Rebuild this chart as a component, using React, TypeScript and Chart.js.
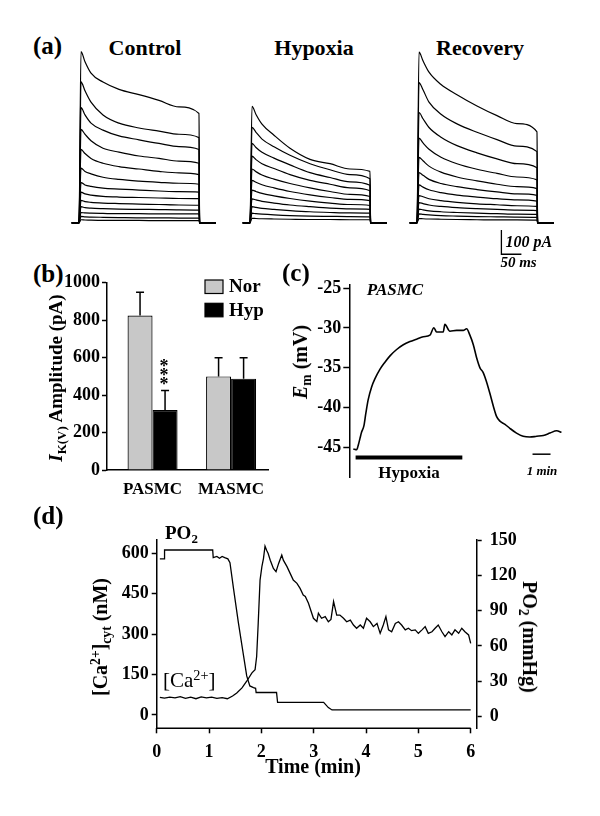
import React, { useEffect, useRef } from "react";
import { Chart, registerables } from "chart.js";

Chart.register(...registerables);

const SERIF = "'Liberation Serif', 'Times New Roman', Times, serif";
Chart.defaults.font.family = SERIF;
Chart.defaults.font.weight = "bold";
Chart.defaults.font.size = 16;
Chart.defaults.color = "#000";

// ---------------- (a) whole-cell K+ current traces (pA) ----------------
const stepTimesMs = [5, 15, 30, 60, 100, 150, 200, 250, 300];
const controlTraces = [
  [709, 667, 620, 583, 553, 531, 507, 480, 453],
  [584, 547, 500, 447, 413, 393, 380, 367, 353],
  [477, 447, 413, 384, 360, 344, 329, 316, 304],
  [387, 367, 340, 309, 293, 277, 267, 256, 247],
  [304, 287, 267, 247, 233, 223, 213, 207, 200],
  [227, 213, 203, 189, 180, 173, 168, 164, 160],
  [167, 157, 151, 144, 140, 136, 132, 129, 127],
  [127, 120, 115, 110, 107, 105, 103, 101, 100],
  [93, 88, 85, 82, 80, 78, 76, 74, 73],
  [67, 63, 61, 59, 57, 56, 55, 54, 53],
  [43, 41, 40, 39, 38, 38, 37, 37, 37],
  [27, 25, 24, 23, 22, 21, 21, 20, 20],
  [13, 12, 11, 10, 10, 10, 9, 9, 9],
];
const hypoxiaTraces = [
  [483, 449, 409, 363, 309, 263, 245, 223, 213],
  [396, 375, 347, 315, 280, 245, 220, 200, 183],
  [329, 312, 292, 268, 240, 208, 188, 170, 156],
  [276, 262, 245, 225, 200, 176, 160, 145, 133],
  [223, 212, 198, 181, 163, 145, 130, 118, 109],
  [176, 168, 158, 145, 130, 116, 105, 97, 92],
  [136, 130, 122, 112, 101, 90, 82, 76, 72],
  [99, 95, 89, 82, 74, 67, 61, 58, 56],
  [67, 64, 60, 56, 51, 46, 43, 41, 40],
  [40, 38, 36, 33, 30, 28, 27, 26, 25],
  [19, 18, 17, 16, 15, 14, 14, 13, 13],
];
const recoveryTraces = [
  [707, 671, 624, 573, 531, 484, 444, 411, 377],
  [581, 551, 500, 450, 410, 375, 345, 318, 295],
  [457, 431, 395, 355, 320, 290, 265, 245, 228],
  [351, 331, 305, 272, 245, 222, 205, 190, 178],
  [271, 257, 235, 210, 190, 174, 160, 150, 142],
  [208, 197, 180, 163, 150, 138, 128, 120, 114],
  [157, 148, 137, 125, 115, 107, 100, 95, 90],
  [113, 108, 100, 92, 85, 79, 75, 71, 68],
  [84, 80, 74, 68, 63, 59, 56, 53, 51],
  [57, 54, 50, 46, 43, 40, 38, 36, 35],
  [37, 35, 33, 30, 28, 26, 25, 24, 23],
  [18, 17, 16, 15, 14, 13, 12, 12, 11],
];
const traceGroupTitles = ["Control", "Hypoxia", "Recovery"];
const scaleBarCurrentPA = 100;
const scaleBarTimeMs = 50;

// ---------------- (b) IK(V) amplitude ----------------
const cellTypes = ["PASMC", "MASMC"];
const groupLabels = ["Nor", "Hyp"];
const norMeanPA = [825, 500];
const norSemPA = [125, 100];
const hypMeanPA = [320, 488];
const hypSemPA = [105, 112];
const hypSignificance = ["***", ""];

// ---------------- (c) membrane potential (min, mV) ----------------
const emTrace: [number, number][] = [
  [0, -45.2], [0.19, -45.3], [0.28, -44.7], [0.37, -43.9], [0.46, -43.1],
  [0.59, -42.3], [0.7, -40.7], [0.83, -39.0], [1.02, -37.4], [1.2, -36.4],
  [1.48, -35.2], [1.76, -34.3], [2.04, -33.5], [2.41, -32.7], [2.78, -32.1],
  [3.15, -31.7], [3.52, -31.4], [3.89, -31.1], [4.26, -30.9], [4.48, -29.96],
  [4.63, -30.5], [5.0, -30.5], [5.09, -29.55], [5.37, -30.4], [5.74, -30.3],
  [6.11, -30.3], [6.3, -30.1], [6.48, -30.9], [6.67, -32.1], [6.85, -33.7],
  [7.04, -35.0], [7.22, -35.6], [7.41, -36.8], [7.59, -38.2], [7.78, -39.8],
  [7.96, -41.1], [8.15, -41.7], [8.43, -42.1], [8.7, -42.6], [9.07, -43.2],
  [9.44, -43.6], [9.81, -43.7], [10.19, -43.6], [10.56, -43.5], [10.93, -43.2],
  [11.3, -42.9], [11.57, -43.1],
];
const hypoxiaPeriodMin = [0.13, 6.06];

// ---------------- (d) [Ca2+]cyt (nM) and PO2 (mmHg) vs time (min) ----------------
const caCyt: [number, number][] = [
  [0.06, 65], [0.15, 62], [0.25, 66], [0.35, 63], [0.45, 68], [0.55, 61], [0.65, 66], [0.75, 60],
  [0.85, 67], [0.95, 63], [1.05, 66], [1.15, 61], [1.25, 64], [1.35, 60], [1.45, 70], [1.53, 81],
  [1.63, 100], [1.72, 125], [1.82, 156], [1.88, 168], [1.91, 217], [1.94, 341], [1.975, 501],
  [2.01, 551], [2.04, 581], [2.07, 627], [2.1, 612], [2.13, 600], [2.17, 575], [2.23, 544],
  [2.28, 532], [2.33, 563], [2.39, 594], [2.42, 575], [2.49, 551], [2.55, 526], [2.61, 501],
  [2.68, 489], [2.74, 470], [2.8, 445], [2.84, 440], [2.9, 415], [2.995, 359], [3.06, 347],
  [3.09, 378], [3.15, 359], [3.22, 365], [3.28, 346], [3.33, 355], [3.38, 421], [3.44, 371],
  [3.5, 371], [3.57, 359], [3.63, 346], [3.7, 352], [3.76, 334], [3.82, 322], [3.89, 334],
  [3.95, 322], [4.01, 359], [4.08, 346], [4.14, 328], [4.21, 340], [4.27, 303], [4.33, 334],
  [4.38, 365], [4.43, 316], [4.49, 309], [4.56, 340], [4.62, 346], [4.68, 334], [4.75, 316],
  [4.81, 322], [4.87, 313], [4.94, 316], [5.0, 303], [5.07, 316], [5.13, 328], [5.19, 303],
  [5.26, 309], [5.32, 322], [5.38, 334], [5.45, 309], [5.51, 291], [5.58, 309], [5.64, 297],
  [5.7, 316], [5.77, 303], [5.83, 322], [5.89, 309], [5.96, 297], [6.0, 266],
];
const po2: [number, number][] = [
  [0.06, 134], [0.14, 134], [0.15, 141.5], [1.07, 141.5], [1.08, 135], [1.15, 136], [1.2, 134.5],
  [1.25, 136], [1.3, 135], [1.36, 134], [1.4, 130.8], [1.47, 108], [1.56, 80], [1.66, 51.5],
  [1.72, 34.5], [1.78, 26], [1.85, 24.6], [1.89, 24], [1.9, 20.4], [2.29, 20.4], [2.31, 12],
  [3.19, 12], [3.28, 7.6], [3.35, 5.6], [6.0, 5.6],
];

// ---------------- helpers ----------------
type Rect = { left: number; top: number; width: number; height: number };

function ChartCanvas({ rect, make }: { rect: Rect; make: () => any }) {
  const ref = useRef<HTMLCanvasElement | null>(null);
  useEffect(() => {
    if (!ref.current) return;
    const chart = new Chart(ref.current, make());
    return () => chart.destroy();
  }, []);
  return (
    <div style={{ position: "absolute", left: rect.left, top: rect.top, width: rect.width, height: rect.height }}>
      <canvas ref={ref} width={rect.width} height={rect.height} style={{ display: "block" }} />
    </div>
  );
}

function Txt(props: {
  x: number; y: number; size: number; bold?: boolean; italic?: boolean;
  anchor?: "center" | "left"; rotate?: number; children: any;
}) {
  const { x, y, size, bold = true, italic = false, anchor = "center", rotate = 0, children } = props;
  const transform = anchor === "center" ? `translate(-50%,-50%) rotate(${rotate}deg)` : "translate(0,-50%)";
  return (
    <div style={{
      position: "absolute", left: x, top: y, transform, fontFamily: SERIF, fontSize: size,
      fontWeight: bold ? "bold" : "normal", fontStyle: italic ? "italic" : "normal",
      whiteSpace: "nowrap", lineHeight: 1, color: "#000",
    }}>{children}</div>
  );
}
const Sub = ({ children }: any) => <span style={{ fontSize: "0.68em", position: "relative", top: "0.3em" }}>{children}</span>;
const Sup = ({ children }: any) => <span style={{ fontSize: "0.68em", position: "relative", top: "-0.5em" }}>{children}</span>;

// ---------------- (a) config ----------------
const TRACE_RECTS: Rect[] = [
  { left: 71, top: 49, width: 168, height: 227 },
  { left: 242, top: 49, width: 168, height: 227 },
  { left: 409, top: 49, width: 168, height: 227 },
];

function makeTraceConfig(traces: number[][], withScaleBar: boolean) {
  const datasets = traces.map((v) => ({
    data: [
      { x: -18, y: 0 }, { x: 0, y: 0 },
      ...stepTimesMs.map((t, i) => ({ x: t, y: v[i] })),
      { x: 301.5, y: 0 }, { x: 342, y: 0 },
    ],
    borderColor: "#000", borderWidth: 1.2, pointRadius: 0, fill: false,
    cubicInterpolationMode: "monotone",
  }));
  const scaleBar = {
    id: "scaleBar",
    afterDatasetsDraw(chart: any) {
      if (!withScaleBar) return;
      const { ctx } = chart;
      const { x, y } = chart.scales;
      const t0 = 211, i0 = -130;
      const x0 = x.getPixelForValue(t0), x1 = x.getPixelForValue(t0 + scaleBarTimeMs);
      const y0 = y.getPixelForValue(i0), y1 = y.getPixelForValue(i0 + scaleBarCurrentPA);
      ctx.save();
      ctx.strokeStyle = "#000"; ctx.lineWidth = 1.3;
      ctx.beginPath(); ctx.moveTo(x0, y1); ctx.lineTo(x0, y0); ctx.lineTo(x1, y0); ctx.stroke();
      ctx.fillStyle = "#000"; ctx.font = `italic bold 16px ${SERIF}`;
      ctx.textBaseline = "middle"; ctx.textAlign = "left";
      ctx.fillText(`${scaleBarCurrentPA} pA`, x0 + 4, (y0 + y1) / 2 + 1);
      ctx.font = `italic bold 15px ${SERIF}`;
      ctx.fillText(`${scaleBarTimeMs} ms`, x0 - 1, y0 + 9);
      ctx.restore();
    },
  };
  return {
    type: "line",
    data: { datasets },
    options: {
      responsive: false, animation: false, events: [],
      layout: { padding: 0 },
      plugins: { legend: { display: false }, tooltip: { enabled: false } },
      scales: {
        x: { type: "linear", display: false, min: -20, max: 400 },
        y: { display: false, min: -220, max: 720 },
      },
    },
    plugins: [scaleBar],
  };
}

// ---------------- (b) config ----------------
const B_RECT: Rect = { left: 20, top: 270, width: 260, height: 235 };
function makeBarConfig() {
  const means = [norMeanPA, hypMeanPA];
  const sems = [norSemPA, hypSemPA];
  const fills = ["#c8c8c8", "#000000"];
  const datasets = groupLabels.map((lab, di) => ({
    label: lab,
    data: cellTypes.map((_, i) => ({ x: i + 1, y: means[di][i] })),
    backgroundColor: fills[di], borderColor: "#000", borderWidth: 1.2,
    categoryPercentage: 0.637, barPercentage: 1,
  }));
  const extras = {
    id: "barExtras",
    afterDatasetsDraw(chart: any) {
      const { ctx } = chart;
      const y = chart.scales.y;
      ctx.save();
      ctx.strokeStyle = "#000"; ctx.lineWidth = 1.5; ctx.fillStyle = "#000";
      chart.data.datasets.forEach((_: any, di: number) => {
        const meta = chart.getDatasetMeta(di);
        meta.data.forEach((bar: any, i: number) => {
          const top = y.getPixelForValue(means[di][i] + sems[di][i]);
          ctx.beginPath();
          ctx.moveTo(bar.x, bar.y); ctx.lineTo(bar.x, top);
          ctx.moveTo(bar.x - 4, top); ctx.lineTo(bar.x + 4, top);
          ctx.stroke();
          if (di === 1 && hypSignificance[i]) {
            ctx.font = `bold 18px ${SERIF}`; ctx.textAlign = "center"; ctx.textBaseline = "alphabetic";
            const stars = hypSignificance[i].split("");
            stars.forEach((s, k) => {
              ctx.fillText(s, bar.x - 1, top - 0.5 - (stars.length - 1 - k) * 9);
            });
          }
        });
      });
      // legend
      const lx = 205 - B_RECT.left, ly = [280 - B_RECT.top, 303.3 - B_RECT.top];
      groupLabels.forEach((lab, di) => {
        ctx.fillStyle = fills[di];
        ctx.fillRect(lx, ly[di], 18, 13.5);
        ctx.lineWidth = 1.2; ctx.strokeRect(lx, ly[di], 18, 13.5);
        ctx.fillStyle = "#000"; ctx.font = `bold 19px ${SERIF}`;
        ctx.textAlign = "left"; ctx.textBaseline = "middle";
        ctx.fillText(lab, lx + 24, ly[di] + 7.5);
      });
      ctx.restore();
    },
  };
  return {
    type: "bar",
    data: { datasets },
    options: {
      responsive: false, animation: false, events: [],
      layout: { padding: { top: 12.3, right: 12, left: 0, bottom: 0 } },
      plugins: { legend: { display: false }, tooltip: { enabled: false } },
      scales: {
        x: {
          type: "linear", min: 0.42, max: 2.47, offset: false,
          afterBuildTicks: (a: any) => { a.ticks = cellTypes.map((_, i) => ({ value: i + 1 })); },
          ticks: {
            callback: (v: any) => cellTypes[Math.round(v) - 1] ?? "",
            font: { size: 17, weight: "bold", family: SERIF }, color: "#000",
            padding: 9, maxRotation: 0, autoSkip: false,
          },
          grid: { display: false, drawTicks: false, offset: false },
          border: { display: true, color: "#000", width: 1.5 },
          afterFit: (s: any) => { s.height = 35; },
        },
        y: {
          min: 0, max: 1000,
          ticks: { stepSize: 200, callback: (v: any) => String(v), font: { size: 18, weight: "bold", family: SERIF }, color: "#000", padding: 2 },
          grid: { drawOnChartArea: false, tickLength: 5, color: "#000", tickWidth: 1.5 },
          border: { display: true, color: "#000", width: 1.5 },
          afterFit: (s: any) => { s.width = 87; },
        },
      },
    },
    plugins: [extras],
  };
}

// ---------------- (c) config ----------------
const C_RECT: Rect = { left: 290, top: 270, width: 285, height: 220 };
function makeEmConfig() {
  const bars = {
    id: "emBars",
    afterDatasetsDraw(chart: any) {
      const { ctx } = chart;
      const { x, y } = chart.scales;
      ctx.save();
      ctx.strokeStyle = "#000";
      ctx.lineWidth = 4;
      ctx.beginPath();
      ctx.moveTo(x.getPixelForValue(hypoxiaPeriodMin[0]), y.getPixelForValue(-46.26));
      ctx.lineTo(x.getPixelForValue(hypoxiaPeriodMin[1]), y.getPixelForValue(-46.26));
      ctx.stroke();
      ctx.lineWidth = 1.5;
      ctx.beginPath();
      ctx.moveTo(x.getPixelForValue(9.96), y.getPixelForValue(-45.85));
      ctx.lineTo(x.getPixelForValue(10.96), y.getPixelForValue(-45.85));
      ctx.stroke();
      ctx.restore();
    },
  };
  return {
    type: "line",
    data: {
      datasets: [{
        data: emTrace.map(([t, v]) => ({ x: t, y: v })),
        borderColor: "#000", borderWidth: 1.6, pointRadius: 0, fill: false,
        cubicInterpolationMode: "monotone",
      }],
    },
    options: {
      responsive: false, animation: false, events: [],
      layout: { padding: { top: 15, bottom: 7, right: 9, left: 0 } },
      plugins: { legend: { display: false }, tooltip: { enabled: false } },
      scales: {
        x: { type: "linear", display: false, min: -0.22, max: 11.82 },
        y: {
          min: -48.74, max: -24.6,
          ticks: { stepSize: 5, includeBounds: false, font: { size: 18, weight: "bold", family: SERIF }, color: "#000", padding: 2 },
          grid: { drawOnChartArea: false, tickLength: 6, color: "#000", tickWidth: 1.5 },
          border: { display: true, color: "#000", width: 1.5 },
          afterFit: (s: any) => { s.width = 59.3; },
        },
      },
    },
    plugins: [bars],
  };
}

// ---------------- (d) config ----------------
const D_RECT: Rect = { left: 20, top: 520, width: 570, height: 260 };
function makeCaConfig() {
  const axisLine = {
    id: "xAxisLine",
    afterDraw(chart: any) {
      const { ctx, chartArea } = chart;
      const x = chart.scales.x;
      ctx.save();
      ctx.strokeStyle = "#000"; ctx.lineWidth = 1.5;
      ctx.beginPath();
      ctx.moveTo(x.getPixelForValue(0), chartArea.bottom);
      ctx.lineTo(x.getPixelForValue(6), chartArea.bottom);
      ctx.stroke();
      ctx.restore();
    },
  };
  const tickFont = { size: 18, weight: "bold", family: SERIF };
  return {
    type: "line",
    data: {
      datasets: [
        {
          label: "[Ca2+]cyt", yAxisID: "yCa",
          data: caCyt.map(([t, v]) => ({ x: t, y: v })),
          borderColor: "#000", borderWidth: 1.3, pointRadius: 0, fill: false,
        },
        {
          label: "PO2", yAxisID: "yPo2",
          data: po2.map(([t, v]) => ({ x: t, y: v })),
          borderColor: "#000", borderWidth: 1.3, pointRadius: 0, fill: false,
        },
      ],
    },
    options: {
      responsive: false, animation: false, events: [],
      layout: { padding: { top: 20, bottom: 0, left: 0, right: 0 } },
      plugins: { legend: { display: false }, tooltip: { enabled: false } },
      scales: {
        x: {
          type: "linear", min: 0, max: 6.115,
          ticks: { stepSize: 1, includeBounds: false, font: tickFont, color: "#000", padding: 8, maxRotation: 0 },
          grid: { drawOnChartArea: false, tickLength: 5, color: "#000", tickWidth: 1.5 },
          border: { display: false },
          afterFit: (s: any) => { s.height = 51.7; },
        },
        yCa: {
          position: "left", min: -50, max: 650,
          ticks: { stepSize: 150, includeBounds: false, font: tickFont, color: "#000", padding: 3 },
          grid: { drawOnChartArea: false, tickLength: 5, color: "#000", tickWidth: 1.5 },
          border: { display: true, color: "#000", width: 1.5 },
          afterFit: (s: any) => { s.width = 136.7; },
        },
        yPo2: {
          position: "right", min: -10, max: 150,
          ticks: { stepSize: 30, includeBounds: false, font: tickFont, color: "#000", padding: 8 },
          grid: { drawOnChartArea: false, tickLength: 5, color: "#000", tickWidth: 1.5 },
          border: { display: true, color: "#000", width: 1.5 },
          afterFit: (s: any) => { s.width = 113.3; },
        },
      },
    },
    plugins: [axisLine],
  };
}

export default function App() {
  const traceSets = [controlTraces, hypoxiaTraces, recoveryTraces];
  const titleX = [145, 314, 480];
  return (
    <div style={{ position: "absolute", left: 0, top: 0, width: 600, height: 816, background: "#fff", overflow: "hidden" }}>
      {/* (a) */}
      <Txt x={33} y={45} size={25} anchor="left">(a)</Txt>
      {traceGroupTitles.map((t, i) => (
        <Txt key={t} x={titleX[i]} y={48} size={22}>{t}</Txt>
      ))}
      {traceSets.map((tr, i) => (
        <ChartCanvas key={i} rect={TRACE_RECTS[i]} make={() => makeTraceConfig(tr, i === 2)} />
      ))}

      {/* (b) */}
      <Txt x={33} y={273} size={25} anchor="left">(b)</Txt>
      <ChartCanvas rect={B_RECT} make={makeBarConfig} />
      <Txt x={55} y={378} size={19} rotate={-90}>
        <i>I</i><Sub>K(V)</Sub> Amplitude (pA)
      </Txt>

      {/* (c) */}
      <Txt x={282} y={272} size={25} anchor="left">(c)</Txt>
      <ChartCanvas rect={C_RECT} make={makeEmConfig} />
      <Txt x={300} y={362} size={20} rotate={-90}>
        <i>E</i><Sub>m</Sub> (mV)
      </Txt>
      <Txt x={395} y={289} size={17} italic>PASMC</Txt>
      <Txt x={409} y={472} size={17}>Hypoxia</Txt>
      <Txt x={542} y={470} size={13} italic>1 min</Txt>

      {/* (d) */}
      <Txt x={33} y={515} size={25} anchor="left">(d)</Txt>
      <ChartCanvas rect={D_RECT} make={makeCaConfig} />
      <Txt x={165} y={532} size={19} anchor="left">PO<Sub>2</Sub></Txt>
      <Txt x={163} y={680} size={21} bold={false} anchor="left">[Ca<Sup>2+</Sup>]</Txt>
      <Txt x={100} y={637} size={20} rotate={-90}>
        [Ca<Sup>2+</Sup>]<Sub>cyt</Sub> (nM)
      </Txt>
      <Txt x={530} y={637} size={20} rotate={90}>
        PO<Sub>2</Sub> (mmHg)
      </Txt>
      <Txt x={313} y={766} size={20}>Time (min)</Txt>
    </div>
  );
}
